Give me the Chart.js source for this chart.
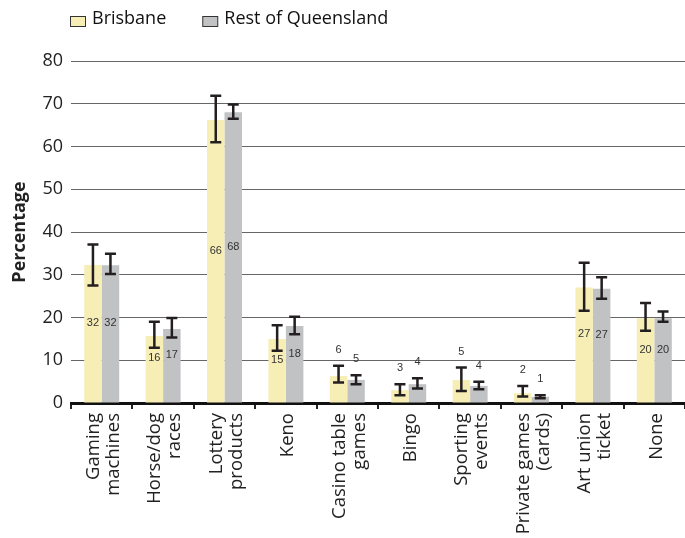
<!DOCTYPE html>
<html>
<head>
<meta charset="utf-8">
<title>Gambling activities by region</title>
<script src="https://cdn.jsdelivr.net/npm/chart.js"></script>
<style>
  html, body { margin: 0; padding: 0; background: #fff; }
  canvas { display: block; }
</style>
</head>
<body>
<canvas id="chart" width="685" height="538"></canvas>
<script>
// Data
const categories = [
  ['Gaming', 'machines'], ['Horse/dog', 'races'], ['Lottery', 'products'], ['Keno'],
  ['Casino table', 'games'], ['Bingo'], ['Sporting', 'events'], ['Private games', '(cards)'],
  ['Art union', 'ticket'], ['None']
];
const seriesNames = ['Brisbane', 'Rest of Queensland'];
const brisbane     = [32.3, 15.7, 66.2, 15.0, 6.3, 3.0, 5.4, 2.3, 27.0, 19.8];
const brisbaneLow  = [27.5, 12.9, 61.0, 12.2, 4.8, 1.8, 2.8, 1.5, 21.6, 16.9];
const brisbaneHigh = [37.1, 19.0, 71.9, 18.2, 8.7, 4.4, 8.3, 4.0, 32.8, 23.4];
const rest         = [32.2, 17.3, 68.0, 18.0, 5.4, 4.4, 4.0, 1.45, 26.7, 19.8];
const restLow      = [30.2, 15.3, 66.5, 16.1, 4.4, 3.4, 3.2, 1.1, 24.4, 19.0];
const restHigh     = [34.9, 19.9, 69.8, 20.2, 6.5, 5.8, 5.0, 1.8, 29.4, 21.4];
const yTicks = [0, 10, 20, 30, 40, 50, 60, 70, 80];

const colors = ['#f7eeb6', '#c1c2c4'];
const FONT = '"Open Sans", "Noto Sans", sans-serif';

// error bars + value labels, legend and rotated category labels
const extras = {
  id: 'extras',
  afterDatasetsDraw(chart) {
    const ctx = chart.ctx;
    const y = chart.scales.y;
    const lows = [brisbaneLow, restLow];
    const highs = [brisbaneHigh, restHigh];
    chart.data.datasets.forEach((ds, di) => {
      const meta = chart.getDatasetMeta(di);
      meta.data.forEach((bar, i) => {
        const x = bar.x;
        const yl = y.getPixelForValue(lows[di][i]);
        const yh = y.getPixelForValue(highs[di][i]);
        ctx.save();
        ctx.strokeStyle = '#231f20';
        ctx.lineWidth = 2.5;
        ctx.beginPath();
        ctx.moveTo(x, yl); ctx.lineTo(x, yh);
        ctx.moveTo(x - 5.5, yl); ctx.lineTo(x + 5.5, yl);
        ctx.moveTo(x - 5.5, yh); ctx.lineTo(x + 5.5, yh);
        ctx.stroke();

        const v = ds.data[i];
        let ty;
        if (v >= 10) ty = y.getPixelForValue(v / 2) - 11;
        else ty = yh - 16;
        ctx.fillStyle = '#333';
        ctx.font = '11px "Liberation Sans", Arial, sans-serif';
        ctx.textAlign = 'center';
        ctx.textBaseline = 'middle';
        ctx.fillText(String(Math.round(v)), x, ty);
        ctx.restore();
      });
    });
  },
  afterDraw(chart) {
    const ctx = chart.ctx;
    ctx.save();
    ctx.font = '18px ' + FONT;
    ctx.textBaseline = 'middle';
    ctx.textAlign = 'left';
    let x = 70;
    chart.data.datasets.forEach((ds, di) => {
      ctx.fillStyle = colors[di];
      ctx.fillRect(x + 0.5, 16.5, 15, 10);
      ctx.strokeStyle = '#333';
      ctx.lineWidth = 1;
      ctx.strokeRect(x + 0.5, 16.5, 15, 10);
      ctx.fillStyle = '#111';
      ctx.fillText(ds.label, x + 22, 19);
      x += 22 + ctx.measureText(ds.label).width + 36;
    });

    // category labels, read upward, lines side by side around the tick
    const xs = chart.scales.x;
    const top = xs.top + 10;
    ctx.font = '18.5px ' + FONT;
    ctx.fillStyle = '#222';
    ctx.textAlign = 'right';
    ctx.textBaseline = 'middle';
    chart.data.labels.forEach((lines, i) => {
      const cx = xs.getPixelForTick(i) + 2;
      lines.forEach((line, j) => {
        const lx = cx + (j - (lines.length - 1) / 2) * 20;
        ctx.save();
        ctx.translate(lx, top);
        ctx.rotate(-Math.PI / 2);
        ctx.fillText(line, 0, 0);
        ctx.restore();
      });
    });
    ctx.restore();
  }
};

new Chart(document.getElementById('chart'), {
  type: 'bar',
  data: {
    labels: categories,
    datasets: [
      { label: seriesNames[0], data: brisbane, backgroundColor: colors[0] },
      { label: seriesNames[1], data: rest, backgroundColor: colors[1] }
    ]
  },
  options: {
    responsive: false,
    animation: false,
    devicePixelRatio: 1,
    layout: { padding: { top: 61, left: 0, right: 0, bottom: 0 } },
    datasets: { bar: { categoryPercentage: 0.57, barPercentage: 1 } },
    plugins: { legend: { display: false }, tooltip: { enabled: false } },
    scales: {
      x: {
        grid: { offset: true, drawOnChartArea: false, drawTicks: true, tickLength: 6, color: '#222', lineWidth: 2 },
        border: { display: true, color: '#111', width: 3 },
        ticks: { display: false },
        afterFit: s => { s.height = 135; }
      },
      y: {
        min: 0, max: 80,
        afterBuildTicks: s => { s.ticks = yTicks.map(v => ({ value: v })); },
        grid: { color: '#666', lineWidth: 1, drawTicks: false },
        border: { display: false },
        ticks: { padding: 8, color: '#222', font: { family: FONT, size: 18 } },
        title: { display: true, text: 'Percentage', color: '#222', padding: { top: 9, bottom: 0 }, font: { family: FONT, size: 18, weight: 'bold' } },
        afterFit: s => { s.width = 71; }
      }
    }
  },
  plugins: [extras]
});
</script>
</body>
</html>
